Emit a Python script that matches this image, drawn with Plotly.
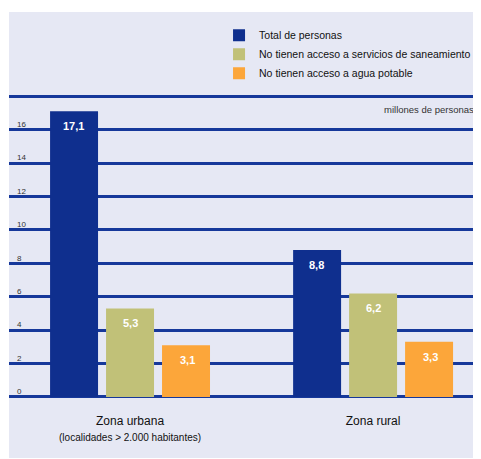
import plotly.graph_objects as go

categories = ["Zona urbana", "Zona rural"]
category_labels = [
    "Zona urbana<br><span style='font-size:10px'>(localidades &gt; 2.000 habitantes)</span>",
    "Zona rural",
]
series_names = [
    "Total de personas",
    "No tienen acceso a servicios de saneamiento",
    "No tienen acceso a agua potable",
]
total_personas = [17.1, 8.8]
sin_saneamiento = [5.3, 6.2]
sin_agua = [3.1, 3.3]
series_values = [total_personas, sin_saneamiento, sin_agua]
colors = ["#0f2f8e", "#c1c178", "#fca63a"]
tick_vals = [0, 2, 4, 6, 8, 10, 12, 14, 16, 18]
tick_text = ["0", "2", "4", "6", "8", "10", "12", "14", "16", ""]

FONT = "Liberation Sans, Arial, sans-serif"

fig = go.Figure()
for name, vals, col in zip(series_names, series_values, colors):
    fig.add_trace(go.Bar(
        x=categories, y=vals, name=name,
        marker=dict(color=col, line=dict(width=0)),
    ))

# value labels inside top of bars
offsets = [-57, 0, 57]
annotations = []
for vals, off in zip(series_values, offsets):
    for cat, v in zip(categories, vals):
        annotations.append(dict(
            x=cat, y=v, xref="x", yref="y", xshift=off, yshift=-15,
            text="<b>" + f"{v:.1f}".replace(".", ",") + "</b>", showarrow=False,
            font=dict(family=FONT, size=11, color="white"),
        ))
annotations.append(dict(
    x=0.99, y=17.2, xref="paper", yref="y", xanchor="right",
    text="millones de personas", showarrow=False,
    font=dict(family=FONT, size=9.5, color="#333333"),
))

fig.update_layout(
    width=473, height=451,
    margin=dict(l=1, r=0, t=85, b=57, autoexpand=False),
    paper_bgcolor="white",
    plot_bgcolor="#e6e8f4",
    barmode="group",
    bargap=0.309,
    bargroupgap=0.143,
    separators=",.",
    font=dict(family=FONT, color="#222222"),
    showlegend=True,
    legend=dict(
        x=0.445, y=1.234, xanchor="left", yanchor="top",
        bgcolor="rgba(0,0,0,0)", font=dict(family=FONT, size=10.5, color="#111111"),
        tracegroupgap=0, itemwidth=30,
    ),
    annotations=annotations,
    shapes=[dict(
        type="rect", xref="paper", yref="paper",
        x0=0, x1=1, y0=-56 / 309, y1=1 + 81 / 309,
        fillcolor="#e6e8f4", line=dict(width=0), layer="below",
    )],
    xaxis=dict(
        range=[-0.498, 1.444], showgrid=False, zeroline=False,
        tickmode="array", tickvals=categories, ticktext=category_labels,
        tickfont=dict(family=FONT, size=12, color="#111111"),
        ticks="", showline=False, ticklabelstandoff=10,
    ),
    yaxis=dict(
        range=[-0.3, 18.2], tickmode="array", tickvals=tick_vals, ticktext=tick_text,
        showgrid=True, gridcolor="#16389a", gridwidth=2.5,
        zeroline=True, zerolinecolor="#16389a", zerolinewidth=2.5,
        ticklabelposition="inside top", ticks="", showline=False,
        tickfont=dict(family=FONT, size=8, color="#333333"),
        ticklabelstandoff=5,
    ),
)

fig.write_html("out.html")
